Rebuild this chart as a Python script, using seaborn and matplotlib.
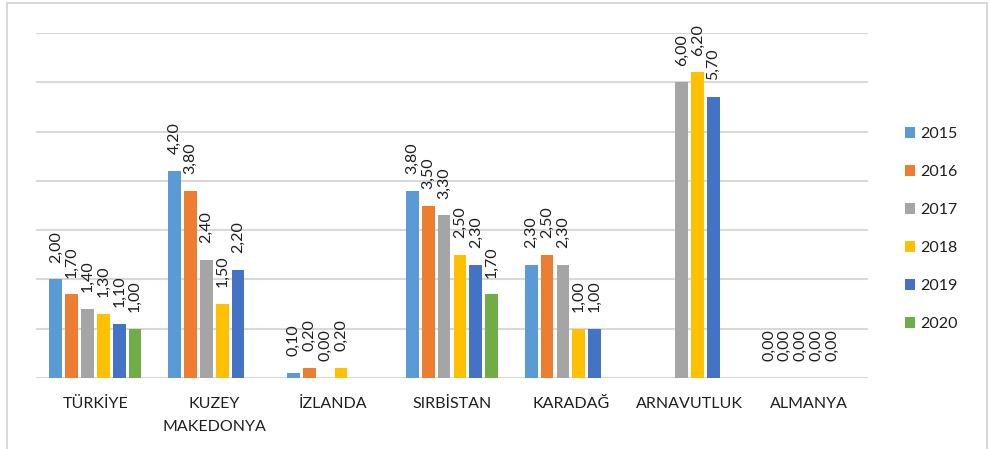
import numpy as np
import pandas as pd
import matplotlib
matplotlib.use("Agg")
import matplotlib.pyplot as plt
from matplotlib.patches import Patch, Rectangle
import seaborn as sns

# Countries and yearly values (NaN = no data for that year)
countries = ["TÜRKİYE", "KUZEY\nMAKEDONYA", "İZLANDA", "SIRBİSTAN",
             "KARADAĞ", "ARNAVUTLUK", "ALMANYA"]
years = ["2015", "2016", "2017", "2018", "2019", "2020"]
nan = np.nan
v2015 = [2.0, 4.2, 0.1, 3.8, 2.3, nan, 0.0]
v2016 = [1.7, 3.8, 0.2, 3.5, 2.5, nan, 0.0]
v2017 = [1.4, 2.4, 0.0, 3.3, 2.3, 6.0, 0.0]
v2018 = [1.3, 1.5, 0.2, 2.5, 1.0, 6.2, 0.0]
v2019 = [1.1, 2.2, nan, 2.3, 1.0, 5.7, 0.0]
v2020 = [1.0, nan, nan, 1.7, nan, nan, nan]
colors = ["#5B9BD5", "#ED7D31", "#A5A5A5", "#FFC000", "#4472C4", "#70AD47"]

series = [v2015, v2016, v2017, v2018, v2019, v2020]
rows = []
for yr, vals in zip(years, series):
    for c, v in zip(countries, vals):
        rows.append({"Ülke": c, "Yıl": yr, "Değer": v})
df = pd.DataFrame(rows).dropna()

sns.set_theme(style="white")
plt.rcParams["font.family"] = ["Lato", "DejaVu Sans"]
text_color = "#1F1F1F"
grid_color = "#D9D9D9"

fig = plt.figure(figsize=(9.9, 4.49), dpi=100)
ax = fig.add_axes([36 / 990, 1 - 378 / 449, (868 - 36) / 990, (378 - 33) / 449])

sns.barplot(data=df, x="Ülke", y="Değer", hue="Yıl", order=countries,
            hue_order=years, palette=colors, width=0.8, gap=0.2,
            linewidth=0, saturation=1, errorbar=None, ax=ax, legend=False,
            zorder=3)

ax.set_ylim(0, 7)
ax.set_yticks(np.arange(0, 8, 1))
ax.yaxis.grid(True, color=grid_color, linewidth=1.5, zorder=0)
ax.set_axisbelow(True)
ax.tick_params(axis="y", left=False, labelleft=False)
ax.tick_params(axis="x", bottom=False, pad=7.5, labelsize=11.5,
               labelcolor=text_color)
for lbl in ax.get_xticklabels():
    lbl.set_linespacing(1.8)
for s in ax.spines.values():
    s.set_visible(False)
ax.set_xlabel("")
ax.set_ylabel("")

# Value labels above bars, rotated, with decimal comma
for cont in ax.containers:
    for bar in cont:
        h = bar.get_height()
        if np.isnan(h):
            continue
        ax.annotate(f"{h:.2f}".replace(".", ","),
                    xy=(bar.get_x() + bar.get_width() / 2, h),
                    xytext=(0, 12), textcoords="offset points",
                    rotation=90, ha="center", va="bottom",
                    fontsize=11.5, color=text_color)

handles = [Patch(facecolor=c, edgecolor="none") for c in colors]
fig.legend(handles, years, loc="center left",
           bbox_to_anchor=(905 / 990, 1 - 229 / 449), frameon=False,
           fontsize=11.5, handlelength=0.65, handleheight=0.65,
           handletextpad=0.3, labelspacing=1.5, labelcolor=text_color,
           borderaxespad=0, borderpad=0)

fig.patches.append(Rectangle((7 / 990, -0.02), (987 - 7) / 990, 1.02 - 3 / 449,
                             transform=fig.transFigure, fill=False,
                             edgecolor=grid_color, linewidth=1.5))

fig.savefig("out.png", dpi=100)
